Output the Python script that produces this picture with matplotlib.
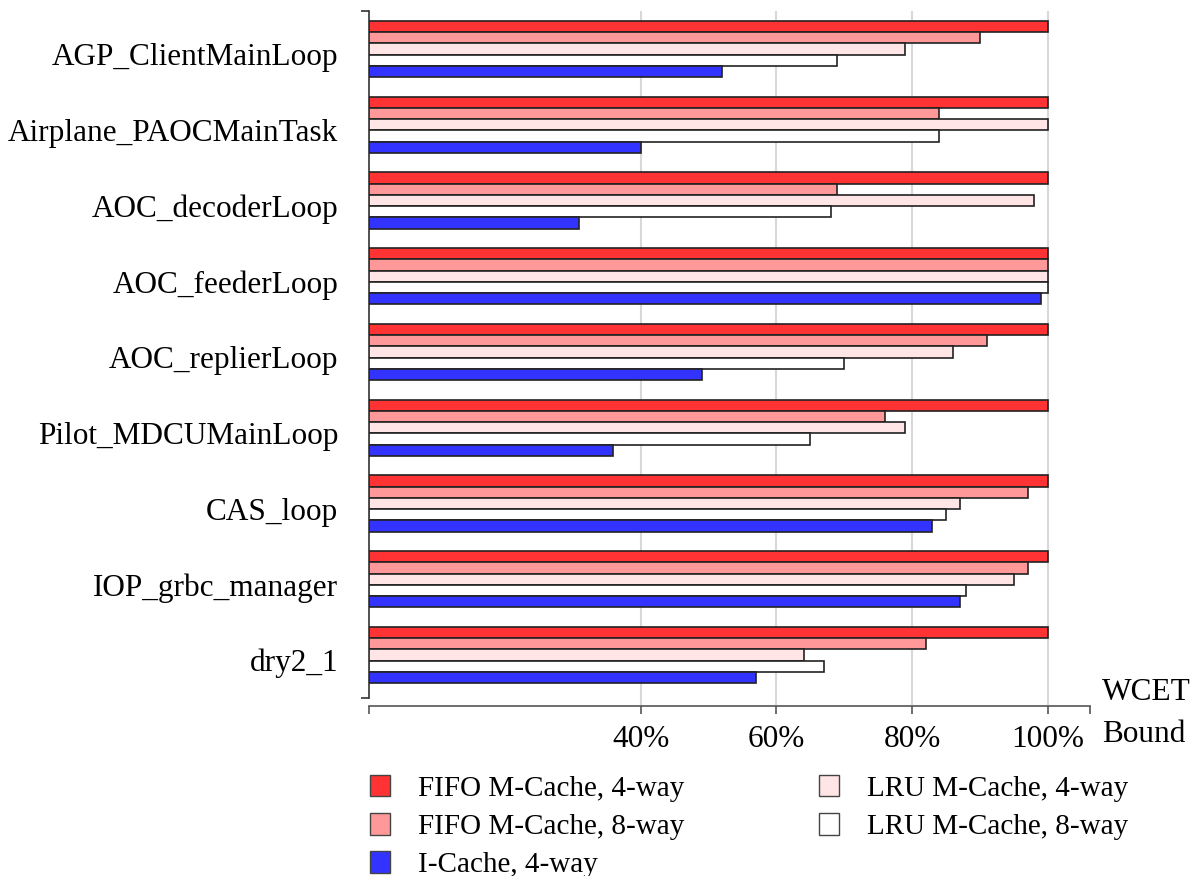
import numpy as np
import matplotlib.pyplot as plt
import matplotlib.transforms as mtransforms
from matplotlib.patches import Patch

plt.rcParams['font.family'] = ['Liberation Serif', 'DejaVu Serif']

# benchmark tasks, top to bottom
tasks = ['AGP_ClientMainLoop', 'Airplane_PAOCMainTask', 'AOC_decoderLoop',
         'AOC_feederLoop', 'AOC_replierLoop', 'Pilot_MDCUMainLoop',
         'CAS_loop', 'IOP_grbc_manager', 'dry2_1']

# WCET bound relative to the worst configuration (%)
fifo_4way = [100, 100, 100, 100, 100, 100, 100, 100, 100]
fifo_8way = [90, 84, 69, 100, 91, 76, 97, 97, 82]
lru_4way = [79, 100, 98, 100, 86, 79, 87, 95, 64]
lru_8way = [69, 84, 68, 100, 70, 65, 85, 88, 67]
icache_4way = [52, 40, 31, 99, 49, 36, 83, 87, 57]

xticks = [40, 60, 80, 100]
xtick_labels = ['40%', '60%', '80%', '100%']

# order in each group, top to bottom
series = [
    (fifo_4way, '#FF3333', 'FIFO M-Cache, 4-way'),
    (fifo_8way, '#FF9999', 'FIFO M-Cache, 8-way'),
    (lru_4way, '#FFE5E5', 'LRU M-Cache, 4-way'),
    (lru_8way, '#FFFFFF', 'LRU M-Cache, 8-way'),
    (icache_4way, '#3333FF', 'I-Cache, 4-way'),
]

W, H = 1194, 876
fig = plt.figure(figsize=(W / 100, H / 100), dpi=100)
ax = fig.add_axes([369 / W, 1 - 706 / H, (1090 - 369) / W, (706 - 11) / H])

y = np.arange(len(tasks))
h = 0.148
for k, (vals, col, lab) in enumerate(series):
    ax.barh(y + (k - 2) * h, vals, height=h, color=col, edgecolor='#222222',
            linewidth=1.2, label=lab, zorder=3)

ax.set_xlim(0, 106.2)
ax.set_ylim(8.673, -0.502)

# grid
for gx in xticks:
    ax.axvline(gx, color='#D8D8D8', linewidth=1.5, zorder=1)

# spines
for s in ['top', 'right']:
    ax.spines[s].set_visible(False)
ax.spines['left'].set_bounds(-0.502, 8.568)
ax.spines['left'].set_color('#333333')
ax.spines['bottom'].set_color('#555555')
ax.spines['left'].set_linewidth(1.2)
ax.spines['bottom'].set_linewidth(1.2)

# y: category labels, tick marks only at the ends
ax.set_yticks(y)
ax.set_yticklabels(tasks, fontsize=22.5)
ax.tick_params(axis='y', which='major', length=0, pad=22)
ax.set_yticks([-0.502, 8.568], minor=True)
ax.tick_params(axis='y', which='minor', length=6, width=1.2, color='#333333',
               direction='out')
shift = mtransforms.ScaledTranslation(0, -5 / 100, fig.dpi_scale_trans)
for lbl in ax.get_yticklabels():
    lbl.set_transform(lbl.get_transform() + shift)

# x ticks
ax.set_xticks([0] + xticks + [106.2])
ax.set_xticklabels([''] + xtick_labels + [''], fontsize=22.5)
ax.tick_params(axis='x', length=6, width=1.2, color='#555555', pad=8)

fig.text(1102 / W, 1 - 692 / H, 'WCET', fontsize=22.5, ha='left', va='center')
fig.text(1102 / W, 1 - 734 / H, 'Bound', fontsize=22.5, ha='left', va='center')

handles = [Patch(facecolor=c, edgecolor='#444444', linewidth=1.0, label=l)
           for _, c, l in series]
order = [0, 1, 4, 2, 3]
fig.legend([handles[i] for i in order], [series[i][2] for i in order],
           ncol=2, frameon=False, fontsize=21,
           loc='upper left', bbox_to_anchor=(370 / W, 1 - 775 / H),
           handlelength=0.7, handleheight=0.75, handletextpad=0.95,
           columnspacing=4.6, labelspacing=0.39, borderaxespad=0,
           borderpad=0)

fig.savefig('out.png', dpi=100)
